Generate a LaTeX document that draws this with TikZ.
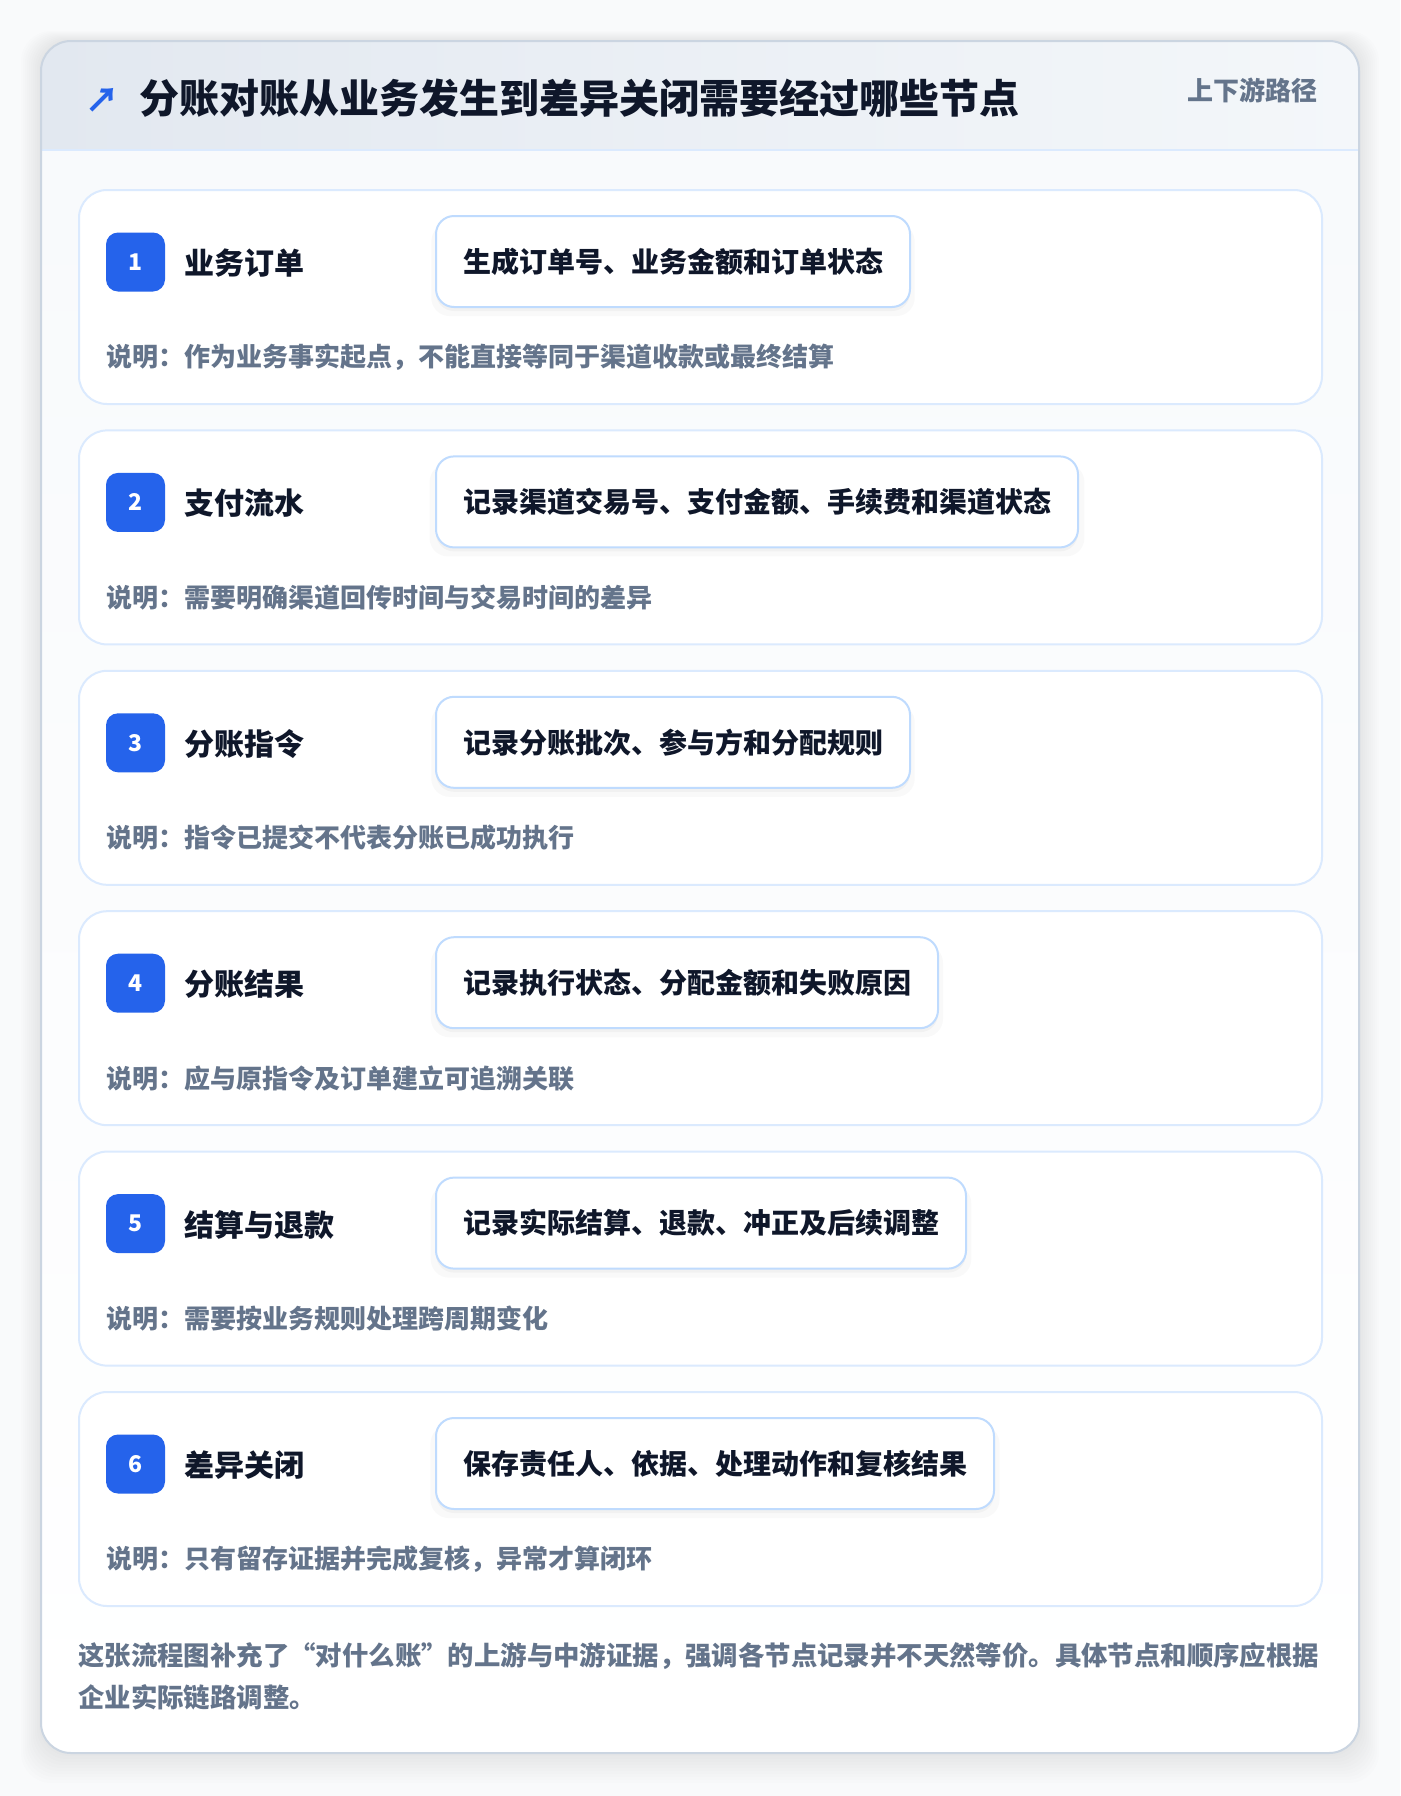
\documentclass[tikz,border=0pt]{standalone}
\usepackage{fontspec}
\setmainfont{Noto Sans CJK SC}
\usetikzlibrary{shadows,shadings}

\definecolor{pagebg}{HTML}{F9FAFB}
\definecolor{frameline}{HTML}{CBD5E1}
\definecolor{headleft}{HTML}{E2E8F0}
\definecolor{headright}{HTML}{F4F7FA}
\definecolor{bodybg}{HTML}{F8FAFC}
\definecolor{cardline}{HTML}{DBEAFE}
\definecolor{pillline}{HTML}{BFDBFE}
\definecolor{badgeblue}{HTML}{2563EB}
\definecolor{inkdark}{HTML}{0F172A}
\definecolor{inkgray}{HTML}{64748B}

\tikzset{
  stepcard/.style={draw=cardline, line width=2pt, fill=white, rounded corners=28pt,
    minimum width=1243pt, minimum height=214pt, anchor=north west, inner sep=0pt},
  badge/.style={fill=badgeblue, rounded corners=12pt, minimum size=59pt, inner sep=0pt,
    text=white, font=\bfseries\fontsize{23}{27}\selectfont},
  steptitle/.style={anchor=west, inner sep=0pt, text=inkdark, font=\bfseries\fontsize{30}{36}\selectfont},
  pill/.style={anchor=west, draw=pillline, line width=2pt, fill=white, rounded corners=18pt,
    minimum height=91pt, inner xsep=27pt, text=inkdark, font=\bfseries\fontsize{28}{34}\selectfont,
    general shadow={shadow yshift=-8pt, fill=black, opacity=0.025, shadow scale=1.02},
    general shadow={shadow yshift=-4pt, fill=black, opacity=0.03}},
  stepnote/.style={anchor=west, inner sep=0pt, text=inkgray, font=\bfseries\fontsize{26}{32}\selectfont}
}

\begin{document}
\begin{tikzpicture}[x=1pt,y=-1pt]
\useasboundingbox (0,0) rectangle (1400,1796);
\fill[pagebg] (0,0) rectangle (1400,1796);

% soft shadow of the frame
\foreach \k in {1,...,10}
  \fill[black, opacity=0.006, rounded corners=30pt] (41-2*\k,41-\k) rectangle (1359+2*\k,1753+3*\k);

% frame, header band and body
\begin{scope}
  \clip[rounded corners=30pt] (41,41) rectangle (1359,1753);
  \shade[top color=bodybg, bottom color=white] (41,150) rectangle (1359,1753);
  \shade[left color=headleft, right color=headright] (41,41) rectangle (1359,150);
\end{scope}
\draw[cardline, line width=2pt] (42,150) -- (1358,150);
\draw[frameline, line width=2pt, rounded corners=30pt] (41,41) rectangle (1359,1753);

\node[inner sep=0pt, text=badgeblue, font=\bfseries\fontsize{34}{40}\selectfont] (icon) at (102,100) {↗};
\node[anchor=west, inner sep=0pt, text=inkdark, font=\bfseries\fontsize{40}{48}\selectfont] (heading) at (139,98) {分账对账从业务发生到差异关闭需要经过哪些节点};
\node[anchor=east, inner sep=0pt, text=inkgray, font=\bfseries\fontsize{26}{30}\selectfont] (tag) at (1318,90) {上下游路径};

% step 1
\node[stepcard] (card1) at (78,189) {};
\node[badge] (num1) at (135.5,262) {1};
\node[steptitle] (title1) at (184,263) {业务订单};
\node[pill] (pill1) at (435,261.5) {生成订单号、业务金额和订单状态};
\node[stepnote] (note1) at (106,357) {说明：作为业务事实起点，不能直接等同于渠道收款或最终结算};

% step 2
\node[stepcard] (card2) at (78,429.4) {};
\node[badge] (num2) at (135.5,502.4) {2};
\node[steptitle] (title2) at (184,503.4) {支付流水};
\node[pill] (pill2) at (435,501.9) {记录渠道交易号、支付金额、手续费和渠道状态};
\node[stepnote] (note2) at (106,597.4) {说明：需要明确渠道回传时间与交易时间的差异};

% step 3
\node[stepcard] (card3) at (78,669.8) {};
\node[badge] (num3) at (135.5,742.8) {3};
\node[steptitle] (title3) at (184,743.8) {分账指令};
\node[pill] (pill3) at (435,742.3) {记录分账批次、参与方和分配规则};
\node[stepnote] (note3) at (106,837.8) {说明：指令已提交不代表分账已成功执行};

% step 4
\node[stepcard] (card4) at (78,910.2) {};
\node[badge] (num4) at (135.5,983.2) {4};
\node[steptitle] (title4) at (184,984.2) {分账结果};
\node[pill] (pill4) at (435,982.7) {记录执行状态、分配金额和失败原因};
\node[stepnote] (note4) at (106,1078.2) {说明：应与原指令及订单建立可追溯关联};

% step 5
\node[stepcard] (card5) at (78,1150.6) {};
\node[badge] (num5) at (135.5,1223.6) {5};
\node[steptitle] (title5) at (184,1224.6) {结算与退款};
\node[pill] (pill5) at (435,1223.1) {记录实际结算、退款、冲正及后续调整};
\node[stepnote] (note5) at (106,1318.6) {说明：需要按业务规则处理跨周期变化};

% step 6
\node[stepcard] (card6) at (78,1391) {};
\node[badge] (num6) at (135.5,1464) {6};
\node[steptitle] (title6) at (184,1465) {差异关闭};
\node[pill] (pill6) at (435,1463.5) {保存责任人、依据、处理动作和复核结果};
\node[stepnote] (note6) at (106,1559) {说明：只有留存证据并完成复核，异常才算闭环};

% closing remark
\node[anchor=west, inner sep=0pt, align=left, text=inkgray, font=\bfseries\fontsize{26.4}{42}\selectfont] (remark) at (78,1676)
  {这张流程图补充了“对什么账”的上游与中游证据，强调各节点记录并不天然等价。具体节点和顺序应根据\\企业实际链路调整。};
\end{tikzpicture}
\end{document}
